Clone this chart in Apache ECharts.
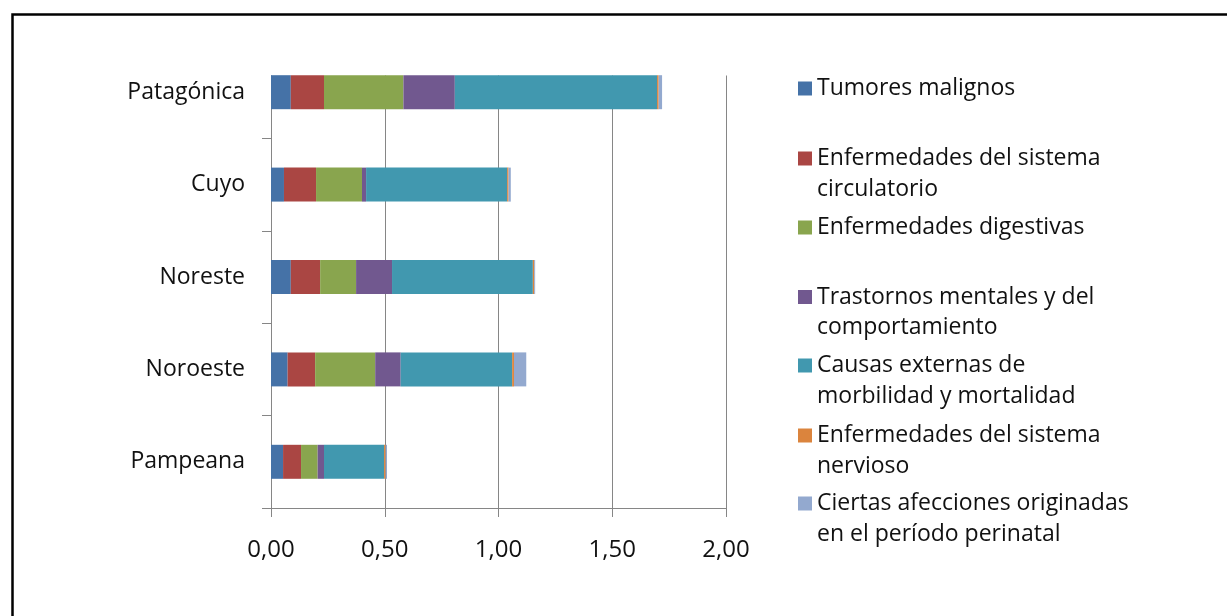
<!DOCTYPE html>
<html>
<head>
<meta charset="utf-8">
<script src="https://cdn.jsdelivr.net/npm/echarts@6/dist/echarts.min.js"></script>
<style>html,body{margin:0;padding:0;background:#fff}#c{width:1227px;height:616px}</style>
</head>
<body>
<div id="c"></div>
<script>
const categories = ['Patagónica', 'Cuyo', 'Noreste', 'Noroeste', 'Pampeana'];
const seriesNames = [
  'Tumores malignos',
  'Enfermedades del sistema circulatorio',
  'Enfermedades digestivas',
  'Trastornos mentales y del comportamiento',
  'Causas externas de morbilidad y mortalidad',
  'Enfermedades del sistema nervioso',
  'Ciertas afecciones originadas en el período perinatal'
];
const legendLines = [
  ['Tumores malignos'],
  ['Enfermedades del sistema', 'circulatorio'],
  ['Enfermedades digestivas'],
  ['Trastornos mentales y del', 'comportamiento'],
  ['Causas externas de', 'morbilidad y mortalidad'],
  ['Enfermedades del sistema', 'nervioso'],
  ['Ciertas afecciones originadas', 'en el período perinatal']
];
const tumores      = [0.087, 0.057, 0.087, 0.073, 0.053];
const circulatorio = [0.146, 0.141, 0.129, 0.121, 0.079];
const digestivas   = [0.349, 0.202, 0.158, 0.264, 0.073];
const mentales     = [0.226, 0.018, 0.158, 0.112, 0.028];
const externas     = [0.889, 0.620, 0.619, 0.490, 0.264];
const nervioso     = [0.007, 0.006, 0.006, 0.008, 0.007];
const perinatal    = [0.015, 0.010, 0.004, 0.054, 0.006];
const xTicks = [0, 0.5, 1, 1.5, 2];

const seriesData = [tumores, circulatorio, digestivas, mentales, externas, nervioso, perinatal];
const colors = ['#4572A7', '#AA4643', '#89A54E', '#71588F', '#4198AF', '#DB843D', '#93A9CF'];
const legendY = [88.5, 158.5, 227.5, 297, 365.5, 435.5, 503.5];

const FONT = 'Open Sans';
const FS = 23;
const LH = 30.5;

const chart = echarts.init(document.getElementById('c'), null, {renderer: 'canvas'});

const legends = seriesNames.map((name, i) => {
  const lines = legendLines[i];
  const two = lines.length > 1;
  return {
    orient: 'vertical',
    left: 798,
    top: legendY[i] - (two ? 1.5 * LH : 0.5 * LH),
    padding: 0,
    itemWidth: 14,
    itemHeight: 14,
    icon: 'rect',
    data: [name],
    selectedMode: false,
    formatter: () => (two ? '\n' : '') + lines.join('\n'),
    textStyle: {
      fontFamily: FONT,
      fontSize: FS,
      lineHeight: LH,
      color: '#111'
    }
  };
});

chart.setOption({
  animation: false,
  color: colors,
  textStyle: {fontFamily: FONT},
  graphic: [
    {type: 'rect', z: 1, shape: {x: 257, y: 36, width: 480, height: 39.5}, style: {fill: '#fff'}},
    {type: 'rect', z: 100, shape: {x: 12.5, y: 14.5, width: 1240, height: 640}, style: {fill: 'none', stroke: '#000', lineWidth: 2.5}}
  ],
  legend: legends,
  grid: {left: 271, right: 501, top: 46, bottom: 108, containLabel: false},
  xAxis: {
    type: 'value',
    min: xTicks[0], max: xTicks[xTicks.length - 1], interval: 0.5,
    axisLine: {show: true, lineStyle: {color: '#868686', width: 1}},
    axisTick: {show: true, length: 9, lineStyle: {color: '#868686'}},
    splitLine: {show: true, lineStyle: {color: '#868686', width: 1}},
    axisLabel: {
      margin: 30,
      fontFamily: FONT, fontSize: 24, color: '#111',
      formatter: v => v.toFixed(2).replace('.', ',')
    }
  },
  yAxis: {
    type: 'category',
    data: categories,
    inverse: true,
    axisLine: {show: true, lineStyle: {color: '#868686', width: 1}},
    axisTick: {show: true, length: 9, lineStyle: {color: '#868686'}},
    axisLabel: {margin: 26, fontFamily: FONT, fontSize: FS, color: '#111', padding: [3, 0, 0, 0]},
    splitLine: {show: false}
  },
  series: seriesNames.map((name, i) => ({
    name,
    type: 'bar',
    stack: 'total',
    barWidth: 34,
    z: 2,
    data: seriesData[i],
    itemStyle: {color: colors[i]}
  }))
});
</script>
</body>
</html>
